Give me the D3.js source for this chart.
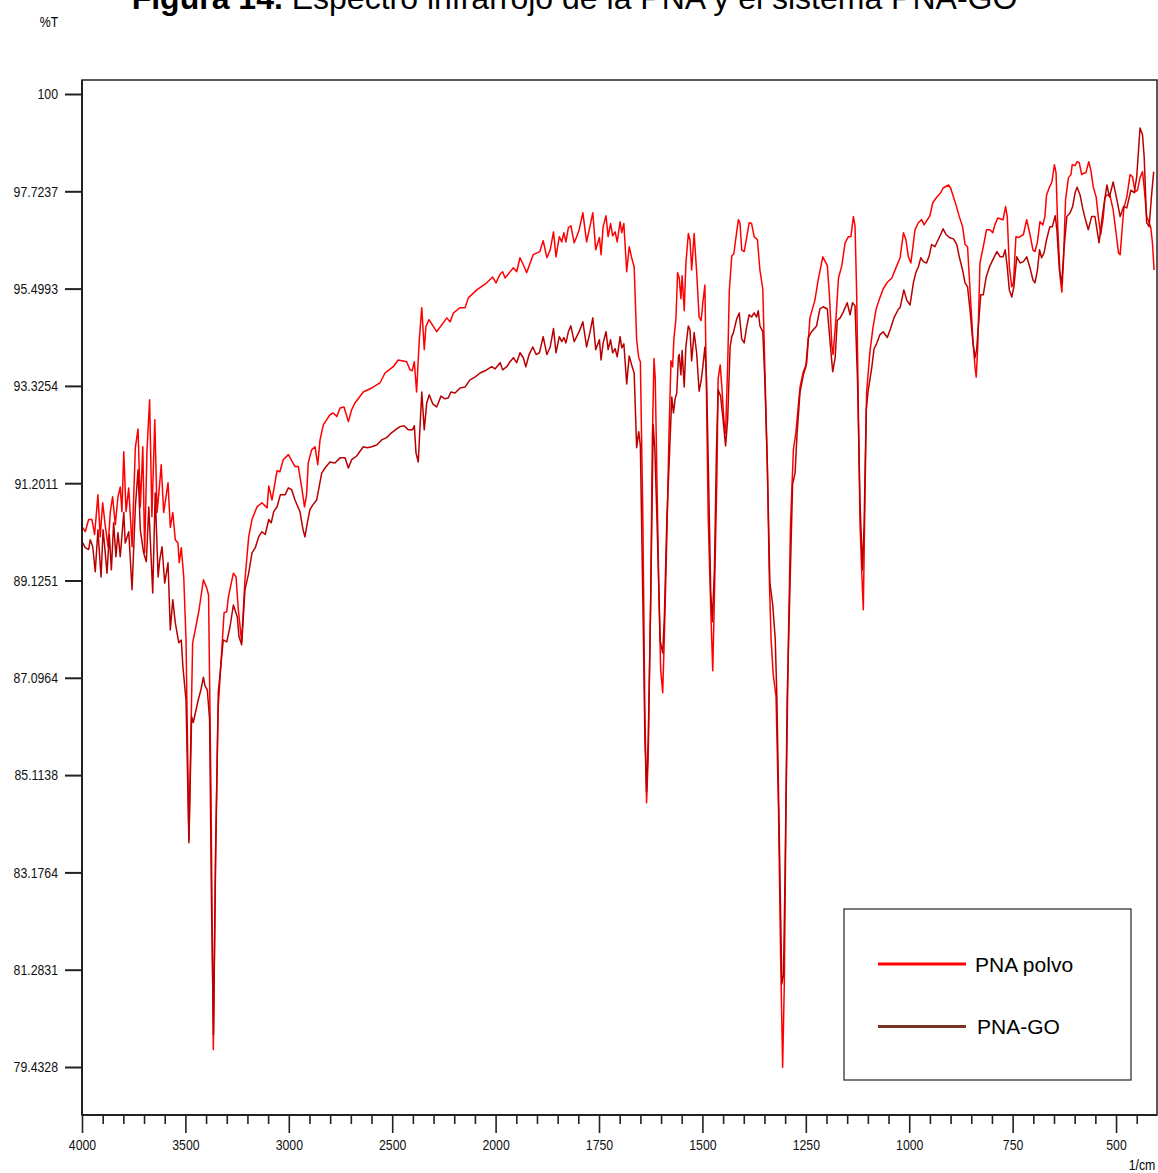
<!DOCTYPE html>
<html><head><meta charset="utf-8">
<script src="https://cdn.jsdelivr.net/npm/d3@7"></script>
<style>
body{margin:0;background:#fff;}
svg{display:block;}
</style></head>
<body><svg id="c" width="1158" height="1173"></svg>
<script>
// ---- DATA (wavenumber 1/cm, %T) ----
const pnaPolvo = [[4000,90.27],[3984,90.16],[3968,90.42],[3952,90.42],[3939,90.10],[3923,90.95],[3912,90.05],[3900,90.78],[3887,90.27],[3874,89.84],[3863,90.59],[3852,90.91],[3839,90.31],[3826,90.91],[3815,91.12],[3807,90.59],[3798,91.88],[3787,90.59],[3774,91.10],[3758,89.84],[3742,91.97],[3729,92.38],[3718,90.69],[3706,91.99],[3697,89.71],[3686,91.88],[3673,93.02],[3662,90.48],[3648,92.58],[3637,90.57],[3626,91.10],[3617,91.60],[3605,90.57],[3584,91.21],[3573,90.25],[3561,90.57],[3549,89.99],[3536,89.92],[3530,89.50],[3520,89.82],[3508,89.20],[3497,87.88],[3483,83.82],[3465,87.82],[3449,88.16],[3434,88.51],[3413,89.14],[3397,88.97],[3388,88.82],[3376,84.62],[3365,79.76],[3354,83.62],[3342,86.44],[3324,87.68],[3313,88.45],[3300,88.47],[3292,88.78],[3268,89.28],[3255,89.20],[3244,88.51],[3228,87.84],[3212,89.14],[3194,90.05],[3178,90.42],[3154,90.69],[3130,90.78],[3105,90.67],[3097,91.14],[3081,90.84],[3057,91.47],[3043,91.45],[3027,91.71],[3002,91.82],[2970,91.56],[2954,91.56],[2938,91.12],[2924,90.69],[2914,90.95],[2906,91.64],[2889,91.93],[2873,91.99],[2860,91.60],[2849,92.14],[2833,92.47],[2801,92.69],[2785,92.73],[2768,92.65],[2752,92.84],[2733,92.86],[2712,92.54],[2696,92.80],[2680,92.95],[2640,93.19],[2599,93.28],[2559,93.39],[2535,93.61],[2495,93.75],[2471,93.90],[2430,93.86],[2414,93.68],[2403,93.66],[2393,93.86],[2382,93.19],[2369,94.35],[2357,95.07],[2345,94.13],[2337,94.64],[2322,94.80],[2285,94.53],[2236,94.84],[2220,94.75],[2204,94.95],[2172,95.07],[2148,95.07],[2132,95.29],[2091,95.47],[2043,95.63],[2014,95.76],[1999,95.63],[1989,95.83],[1983,95.88],[1977,95.74],[1957,95.97],[1949,95.88],[1941,96.20],[1933,96.04],[1925,95.86],[1909,96.27],[1893,96.34],[1885,96.59],[1876,96.20],[1868,96.38],[1860,96.79],[1854,96.22],[1846,96.68],[1840,96.56],[1835,96.77],[1830,96.56],[1824,96.89],[1818,96.93],[1810,96.54],[1804,96.68],[1798,96.84],[1789,97.23],[1780,96.56],[1772,96.91],[1765,97.23],[1758,96.38],[1749,96.66],[1745,96.27],[1740,96.91],[1733,97.16],[1728,96.68],[1722,96.98],[1717,96.70],[1711,96.79],[1706,96.56],[1699,97.02],[1695,96.77],[1690,96.98],[1683,95.88],[1677,96.45],[1671,96.20],[1665,95.99],[1659,94.35],[1654,93.95],[1650,93.86],[1644,90.46],[1639,86.30],[1635,84.56],[1631,85.50],[1625,88.78],[1621,92.19],[1617,93.93],[1614,93.48],[1610,91.31],[1605,88.78],[1601,87.28],[1596,86.79],[1592,87.95],[1586,90.03],[1581,92.19],[1576,93.88],[1572,93.75],[1569,94.37],[1564,94.82],[1560,95.86],[1556,95.74],[1552,95.27],[1549,95.79],[1544,95.00],[1540,96.06],[1534,96.75],[1530,96.61],[1526,95.92],[1520,96.75],[1514,95.88],[1508,94.86],[1503,94.78],[1499,95.18],[1494,95.58],[1490,93.04],[1486,90.46],[1479,88.28],[1475,87.24],[1471,88.78],[1465,91.31],[1462,93.48],[1457,93.79],[1453,93.30],[1448,92.56],[1444,92.28],[1439,93.75],[1435,95.45],[1429,96.24],[1424,96.29],[1419,96.66],[1413,97.07],[1409,96.98],[1405,96.38],[1399,96.34],[1393,96.66],[1387,97.00],[1381,96.98],[1375,96.68],[1367,96.61],[1361,95.92],[1354,95.49],[1349,93.70],[1343,91.56],[1338,89.09],[1334,87.91],[1329,87.18],[1322,86.71],[1316,84.40],[1311,81.57],[1306,79.43],[1302,81.01],[1298,84.40],[1292,87.91],[1287,90.33],[1280,91.93],[1274,92.30],[1264,93.30],[1256,93.64],[1248,93.82],[1240,94.84],[1228,95.24],[1220,95.70],[1209,96.22],[1198,96.02],[1193,95.36],[1187,94.22],[1184,94.02],[1177,94.84],[1171,95.74],[1163,96.02],[1155,96.54],[1147,96.68],[1141,96.68],[1135,97.14],[1131,96.93],[1127,95.36],[1123,92.80],[1119,90.33],[1115,89.35],[1111,88.51],[1107,90.93],[1103,93.19],[1095,94.08],[1088,94.60],[1080,95.04],[1071,95.29],[1063,95.49],[1054,95.63],[1042,95.74],[1030,96.02],[1022,96.20],[1014,96.77],[1008,96.61],[1002,96.22],[996,96.08],[992,96.38],[986,96.84],[978,97.00],[970,97.07],[964,96.95],[956,97.07],[950,97.16],[943,97.46],[935,97.57],[924,97.69],[918,97.80],[905,97.87],[900,97.80],[893,97.59],[887,97.41],[879,97.14],[871,96.91],[865,96.50],[859,96.45],[853,95.47],[846,94.35],[841,93.75],[838,93.52],[834,94.28],[829,96.08],[821,96.45],[813,96.84],[805,96.84],[798,96.77],[793,96.95],[786,97.11],[773,97.07],[767,97.37],[763,97.14],[758,95.99],[752,95.54],[748,95.63],[742,96.68],[736,96.66],[724,96.73],[716,97.07],[708,96.73],[701,96.38],[696,96.34],[690,96.56],[684,97.02],[677,96.95],[672,97.14],[668,97.64],[661,97.82],[655,97.94],[649,98.34],[645,98.15],[641,96.91],[635,95.74],[631,95.42],[627,96.15],[622,97.53],[615,98.04],[609,98.11],[606,98.34],[599,98.32],[594,98.41],[589,98.39],[583,98.11],[577,98.15],[573,98.15],[566,98.41],[561,98.22],[555,97.82],[548,97.59],[543,97.14],[537,96.73],[531,97.11],[527,97.57],[522,97.64],[515,97.64],[507,97.30],[500,96.77],[494,96.31],[490,96.27],[486,96.77],[481,97.34],[474,97.59],[466,98.11],[460,98.06],[454,97.71],[448,97.75],[442,98.04],[436,98.18],[432,97.82],[426,97.14],[420,97.00],[416,96.89],[412,96.54],[408,95.92]];

const pnaGO = [[4000,89.95],[3984,89.82],[3968,89.78],[3960,89.99],[3948,89.84],[3936,89.31],[3923,90.20],[3908,89.20],[3898,90.20],[3890,89.82],[3879,89.28],[3868,90.10],[3858,89.35],[3847,90.35],[3836,89.63],[3826,90.14],[3815,89.63],[3798,90.57],[3791,89.92],[3774,90.16],[3758,88.93],[3742,90.69],[3729,91.49],[3718,90.20],[3702,89.71],[3689,89.52],[3677,90.69],[3658,88.86],[3646,90.99],[3632,89.20],[3624,89.56],[3613,89.84],[3600,89.07],[3584,89.50],[3573,88.09],[3561,88.72],[3549,88.24],[3532,87.82],[3520,87.88],[3512,87.32],[3497,86.64],[3483,83.76],[3470,86.30],[3462,86.18],[3438,86.64],[3425,86.85],[3413,87.11],[3405,86.93],[3394,86.85],[3383,86.24],[3374,82.64],[3364,80.04],[3354,83.42],[3341,86.79],[3317,87.88],[3300,87.84],[3284,88.16],[3268,88.61],[3249,88.36],[3241,87.95],[3228,87.78],[3212,88.93],[3194,89.28],[3178,89.71],[3162,89.82],[3146,90.05],[3130,90.16],[3114,90.10],[3097,90.42],[3085,90.35],[3073,90.59],[3057,90.69],[3041,90.95],[3018,90.95],[3002,91.10],[2986,91.06],[2970,90.84],[2946,90.59],[2931,90.20],[2922,90.05],[2912,90.31],[2898,90.63],[2883,90.74],[2865,90.84],[2841,91.42],[2825,91.53],[2801,91.66],[2777,91.64],[2752,91.75],[2728,91.75],[2712,91.53],[2696,91.71],[2672,91.79],[2640,91.99],[2620,91.97],[2599,91.99],[2575,92.03],[2551,92.14],[2527,92.19],[2502,92.30],[2478,92.38],[2462,92.43],[2443,92.45],[2422,92.36],[2402,92.36],[2393,92.45],[2385,91.86],[2374,91.66],[2357,93.19],[2345,92.36],[2333,92.95],[2321,93.13],[2304,92.93],[2285,92.86],[2264,93.10],[2245,93.04],[2229,93.06],[2216,93.19],[2196,93.17],[2172,93.28],[2148,93.30],[2124,93.46],[2100,93.52],[2075,93.61],[2051,93.66],[2019,93.75],[2003,93.70],[1989,93.84],[1983,93.68],[1973,93.75],[1965,93.86],[1957,93.95],[1949,93.84],[1941,94.06],[1933,93.95],[1927,93.75],[1919,94.02],[1910,94.19],[1902,94.02],[1894,94.06],[1885,94.42],[1876,94.02],[1868,94.19],[1860,94.60],[1854,94.06],[1846,94.42],[1840,94.31],[1835,94.40],[1830,94.28],[1824,94.53],[1818,94.66],[1810,94.31],[1804,94.42],[1798,94.53],[1789,94.75],[1780,94.19],[1772,94.51],[1765,94.84],[1758,94.13],[1749,94.35],[1745,93.90],[1740,94.28],[1733,94.53],[1728,94.13],[1722,94.35],[1717,94.06],[1711,94.15],[1706,93.97],[1699,94.42],[1695,94.17],[1690,94.26],[1683,93.37],[1677,93.99],[1671,93.79],[1665,93.61],[1659,91.97],[1654,92.32],[1650,92.01],[1644,88.72],[1639,85.83],[1635,84.78],[1631,85.83],[1625,88.72],[1619,92.47],[1615,91.93],[1610,90.46],[1602,87.86],[1596,87.61],[1592,88.36],[1586,90.42],[1578,92.19],[1574,93.08],[1570,92.73],[1566,93.04],[1562,93.17],[1558,93.97],[1556,94.02],[1552,93.57],[1549,94.11],[1544,93.30],[1540,94.19],[1534,94.66],[1530,94.57],[1526,93.88],[1520,94.51],[1514,94.06],[1508,93.21],[1503,93.44],[1499,93.75],[1494,94.19],[1490,93.48],[1485,91.27],[1480,88.93],[1476,88.26],[1471,89.35],[1466,91.93],[1462,93.24],[1456,93.10],[1450,92.58],[1444,92.01],[1439,92.58],[1433,94.19],[1429,94.42],[1425,94.51],[1417,94.82],[1411,94.95],[1405,94.37],[1399,94.28],[1393,94.64],[1387,94.91],[1381,94.86],[1375,94.95],[1369,94.86],[1365,95.00],[1361,94.66],[1354,94.53],[1349,93.44],[1343,91.56],[1337,89.09],[1330,88.61],[1324,87.91],[1320,86.71],[1314,83.82],[1308,81.01],[1304,81.18],[1300,83.24],[1295,86.71],[1288,89.09],[1282,91.18],[1276,91.42],[1271,92.30],[1264,93.19],[1256,93.57],[1250,93.75],[1244,94.40],[1236,94.53],[1224,94.66],[1216,95.04],[1208,95.09],[1198,95.04],[1191,94.26],[1185,93.64],[1179,93.95],[1174,94.78],[1167,94.84],[1159,94.98],[1150,95.18],[1143,94.91],[1137,95.18],[1131,95.11],[1125,93.44],[1119,90.80],[1113,89.35],[1109,90.33],[1104,92.80],[1099,93.24],[1091,93.70],[1085,94.15],[1079,94.26],[1071,94.46],[1063,94.53],[1053,94.40],[1045,94.60],[1037,94.84],[1026,95.04],[1022,95.07],[1013,95.47],[1006,95.24],[998,95.13],[990,95.63],[984,95.86],[978,95.99],[972,96.20],[966,96.11],[958,96.08],[951,96.27],[946,96.50],[938,96.45],[930,96.61],[924,96.73],[918,96.86],[911,96.73],[903,96.66],[893,96.63],[885,96.50],[879,96.22],[871,95.92],[865,95.63],[859,95.54],[853,95.02],[846,94.28],[841,93.95],[837,94.13],[833,94.64],[827,95.36],[821,95.36],[814,95.76],[806,95.99],[798,96.15],[788,96.34],[780,96.22],[773,96.22],[768,96.38],[763,95.99],[758,95.47],[752,95.31],[747,95.54],[740,96.22],[732,96.08],[724,96.11],[716,96.22],[708,95.97],[701,95.70],[696,95.63],[690,95.92],[685,96.38],[680,96.20],[674,96.31],[668,96.61],[660,96.91],[654,96.91],[647,97.16],[643,96.84],[637,95.92],[631,95.63],[626,96.38],[619,97.14],[611,97.23],[605,97.37],[599,97.69],[594,97.82],[587,97.64],[580,97.30],[575,97.11],[567,96.84],[559,97.14],[551,97.14],[541,96.54],[532,97.23],[522,97.87],[516,97.59],[507,97.94],[498,97.53],[490,97.14],[482,97.37],[474,97.34],[464,97.75],[456,97.69],[450,98.06],[442,99.20],[436,99.04],[432,98.53],[426,97.00],[420,96.91],[414,97.64],[409,98.18]];

const seriesNames = ["PNA polvo", "PNA-GO"];
const yTickValues = [79.4328, 81.2831, 83.1764, 85.1138, 87.0964, 89.1251, 91.2011, 93.3254, 95.4993, 97.7237, 100];
const yTickLabels = ["79.4328","81.2831","83.1764","85.1138","87.0964","89.1251","91.2011","93.3254","95.4993","97.7237","100"];
const xMajorTicks = [4000, 3500, 3000, 2500, 2000, 1750, 1500, 1250, 1000, 750, 500];
const xMinorTicks = [3900,3800,3700,3600,3400,3300,3200,3100,2900,2800,2700,2600,2400,2300,2200,2100,1950,1900,1850,1800,1700,1650,1600,1550,1450,1400,1350,1300,1200,1150,1100,1050,950,900,850,800,700,650,600,550,450];
const titleBold = "Figura 14.";
const titleRest = " Espectro infrarrojo de la PNA y el sistema PNA-GO";

// ---- LAYOUT ----
const L = 82, R = 1157, T = 80, B = 1115;
const svg = d3.select("#c");

function hasFont(name){
  const c = document.createElement('canvas').getContext('2d');
  const s = '0123456789.%T';
  c.font = '20px monospace'; const w0 = c.measureText(s).width;
  c.font = `20px "${name}", monospace`; const w1 = c.measureText(s).width;
  return Math.abs(w0 - w1) > 0.5;
}
const narrow = hasFont('Liberation Sans Narrow');
const tickFam = narrow ? '"Liberation Sans Narrow", "Arial Narrow", sans-serif' : '"Liberation Sans", Arial, sans-serif';
const sx = narrow ? 1 : 0.82;

const x = d3.scaleLinear().domain([4000, 2000, 400]).range([82, 495.6, 1157.4]);
const y = d3.scaleLog().domain([79.4328, 100]).range([1067, 94]);

// title
const title = svg.append("text").attr("x", 574.5).attr("y", 9)
  .attr("text-anchor", "middle")
  .style("font-family", '"Liberation Sans", Arial, sans-serif')
  .style("font-size", "32px").attr("fill", "#000");
title.append("tspan").style("font-weight", "bold").text(titleBold);
title.append("tspan").text(titleRest);

// %T label
svg.append("text").attr("x", 49).attr("y", 27).attr("text-anchor", "middle")
  .style("font-family", tickFam).style("font-size", "15px")
  .attr("transform", `translate(49,0) scale(${sx},1) translate(-49,0)`)
  .text("%T");
// 1/cm label
svg.append("text").attr("x", 1142).attr("y", 1170).attr("text-anchor", "middle")
  .style("font-family", tickFam).style("font-size", "15px")
  .attr("transform", `translate(1142,0) scale(${sx},1) translate(-1142,0)`)
  .text("1/cm");

// clip
svg.append("defs").append("clipPath").attr("id", "clip")
  .append("rect").attr("x", L).attr("y", T).attr("width", R - L).attr("height", B - T);

// lines
const line = d3.line().x(d => x(d[0])).y(d => y(d[1]));
const g = svg.append("g").attr("clip-path", "url(#clip)");
g.append("path").datum(pnaPolvo).attr("d", line)
  .attr("fill", "none").attr("stroke", "#ff0000").attr("stroke-width", 1.5).attr("stroke-linejoin", "round");
g.append("path").datum(pnaGO).attr("d", line)
  .attr("fill", "none").attr("stroke", "#b80000").attr("stroke-width", 1.5).attr("stroke-linejoin", "round");

// frame
svg.append("rect").attr("x", L).attr("y", T).attr("width", R - L).attr("height", B - T)
  .attr("fill", "none").attr("stroke", "#222").attr("stroke-width", 1.5);

// y axis
const yAxis = d3.axisLeft(y).tickValues(yTickValues).tickSize(17).tickPadding(7)
  .tickFormat((d, i) => yTickLabels[i]);
const ya = svg.append("g").attr("transform", `translate(${L},0)`).call(yAxis);
ya.select(".domain").remove();
ya.selectAll(".tick line").attr("stroke", "#222").attr("stroke-width", 2);
ya.selectAll(".tick text").style("font-family", tickFam).style("font-size", "15px").attr("fill", "#111")
  .attr("x", -24 / sx).attr("transform", `scale(${sx},1)`);
svg.append("line").attr("x1", L).attr("x2", L).attr("y1", T).attr("y2", B).attr("stroke", "#222").attr("stroke-width", 2);

// x axis major
const xAxis = d3.axisBottom(x).tickValues(xMajorTicks).tickSize(18).tickPadding(6).tickFormat(d3.format("d"));
const xa = svg.append("g").attr("transform", `translate(0,${B})`).call(xAxis);
xa.select(".domain").remove();
xa.selectAll(".tick line").attr("stroke", "#222").attr("stroke-width", 1.6);
xa.selectAll(".tick text").style("font-family", tickFam).style("font-size", "15px").attr("fill", "#111")
  .attr("transform", `scale(${sx},1)`);
// x minor
const xMinor = d3.axisBottom(x).tickValues(xMinorTicks).tickSize(9).tickFormat("");
const xm = svg.append("g").attr("transform", `translate(0,${B})`).call(xMinor);
xm.select(".domain").remove();
xm.selectAll(".tick line").attr("stroke", "#222").attr("stroke-width", 1.6);
svg.append("line").attr("x1", L).attr("x2", R).attr("y1", B).attr("y2", B).attr("stroke", "#222").attr("stroke-width", 2);

// legend
const lg = svg.append("g");
lg.append("rect").attr("x", 844).attr("y", 909).attr("width", 287).attr("height", 171)
  .attr("fill", "#fff").attr("stroke", "#333").attr("stroke-width", 1.3);
const legendColors = ["#ff0000", "#7b3323"];
const legendY = [964, 1026.5];
const legendTX = [975, 977];
seriesNames.forEach((n, i) => {
  lg.append("line").attr("x1", 878).attr("x2", 966).attr("y1", legendY[i]).attr("y2", legendY[i])
    .attr("stroke", legendColors[i]).attr("stroke-width", 3);
  lg.append("text").attr("x", legendTX[i]).attr("y", legendY[i] + 7.5)
    .style("font-family", '"Liberation Sans", Arial, sans-serif').style("font-size", "21px")
    .attr("fill", "#000").text(n);
});
</script>
</body></html>
